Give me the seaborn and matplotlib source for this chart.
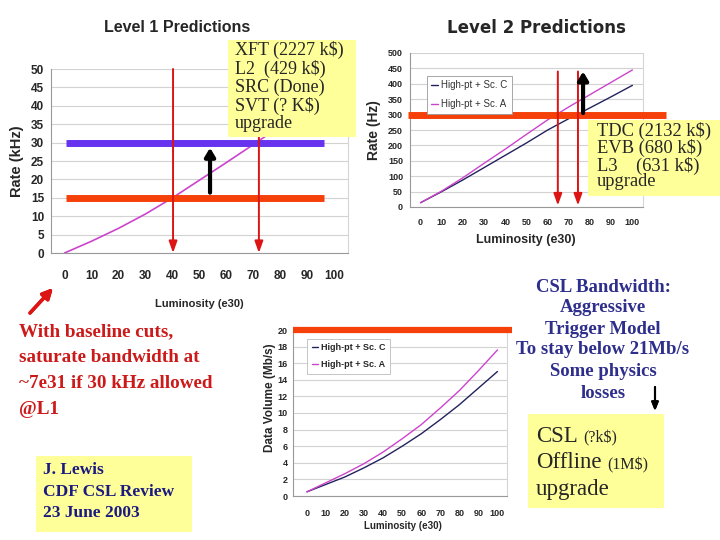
import matplotlib
matplotlib.use('Agg')
import matplotlib.pyplot as plt
from matplotlib import font_manager
from matplotlib.patches import Rectangle
import seaborn as sns
import pandas as pd

# ---- values ----
lum = [0, 10, 20, 30, 40, 50, 60, 70, 80, 90, 100]
l1_rate = [0, 3.2, 6.7, 10.6, 15.0, 19.8, 24.6, 29.5, 34.5, 39.8, 45.3]    # kHz
l2_sc_c = [14, 50, 88, 128, 168, 208, 250, 287, 322, 358, 395]              # Hz
l2_sc_a = [14, 52, 95, 142, 188, 236, 283, 325, 365, 405, 445]
dv_sc_c = [0.5, 1.4, 2.3, 3.4, 4.6, 6.0, 7.5, 9.2, 11.0, 13.0, 15.0]        # Mb/s
dv_sc_a = [0.5, 1.6, 2.7, 3.9, 5.3, 6.9, 8.6, 10.6, 12.7, 15.1, 17.6]
series_names = ['High-pt + Sc. C', 'High-pt + Sc. A']

l1_limits = [15, 29.8]          # today's L1 limit and the 30 kHz upgrade
l1_span = [0.5, 96]
l1_cross = [40.2, 72]           # luminosity where the curve hits each limit
l1_gain = [53.9, 16.4, 28.6]    # black arrow: lum, from, to
l2_limit = 300
l2_span = [-5.9, 116]
l2_cross = [64.8, 74.3]
l2_gain = [76.7, 305, 440]
dv_limit = 20
dv_span = [-7.3, 107.5]

box1_lines = ['XFT (2227 k$)', 'L2  (429 k$)', 'SRC (Done)', 'SVT (? K$)', 'upgrade']
box2_lines = ['TDC (2132 k$)', 'EVB (680 k$)', 'L3    (631 k$)', 'upgrade']
red_lines = ['With baseline cuts,', 'saturate bandwidth at', '~7e31 if 30 kHz allowed', '@L1']
blue_lines = ['CSL Bandwidth:', 'Aggressive', 'Trigger Model', 'To stay below 21Mb/s',
              'Some physics', 'losses']
credit_lines = ['J. Lewis', 'CDF CSL Review', '23 June 2003']
csl_words = ['CSL', 'Offline', 'upgrade']
csl_costs = ['(?k$)', '(1M$)', '']

MAGENTA = '#CC44CC'
NAVY = '#22225E'
ORANGE = '#F5400A'
PURPLE = '#6633EE'
RED = '#DD1414'
YELLOW = '#FFFF99'

sns.set_style('white')
avail = {f.name for f in font_manager.fontManager.ttflist}
sans = 'Liberation Sans Narrow' if 'Liberation Sans Narrow' in avail else 'Liberation Sans'
serif = 'Liberation Serif'
plt.rcParams['font.family'] = [sans, 'DejaVu Sans']

df1 = pd.DataFrame({'lum': lum, 'rate': l1_rate})
df2 = pd.DataFrame({'lum': lum * 2, 'rate': l2_sc_c + l2_sc_a,
                    'series': [series_names[0]] * len(lum) + [series_names[1]] * len(lum)})
df3 = pd.DataFrame({'lum': lum * 2, 'vol': dv_sc_c + dv_sc_a,
                    'series': [series_names[0]] * len(lum) + [series_names[1]] * len(lum)})

fig = plt.figure(figsize=(7.2, 5.4), dpi=100)


def fpos(x, y):                      # slide pixels -> figure fraction
    return (x / 720, 1 - y / 540)


def frect(x0, y0, x1, y1):
    return [x0 / 720, 1 - y1 / 540, (x1 - x0) / 720, (y1 - y0) / 540]


def style_axes(ax, xlim, ylim, yticks, size, xpad, ypad=2):
    ax.set_xlim(*xlim)
    ax.set_ylim(*ylim)
    ax.set_xticks(lum)
    ax.set_xticks([v - 5 for v in lum] + [105], minor=True)
    ax.set_yticks(yticks)
    ax.tick_params(axis='x', which='major', length=0, pad=xpad, labelsize=size)
    ax.tick_params(axis='x', which='minor', length=3, width=0.8, color='#999999', direction='out')
    ax.tick_params(axis='y', length=3, width=0.8, color='#999999', pad=ypad, labelsize=size)
    for lab in ax.get_xticklabels() + ax.get_yticklabels():
        lab.set_fontweight('bold')
    ax.yaxis.grid(True, color='#D2D2D2', lw=0.8)
    ax.set_axisbelow(True)
    ax.spines['top'].set_visible(False)
    for s in ['left', 'bottom']:
        ax.spines[s].set_color('#999999')
        ax.spines[s].set_linewidth(0.8)
    ax.spines['right'].set_color('#D5D5D5')
    ax.spines['right'].set_linewidth(0.8)
    ax.set_xlabel('')
    ax.set_ylabel('')


def down_arrow(ax, x, y0, y1, color, lw, head):
    ax.annotate('', xy=(x, y1), xytext=(x, y0),
                arrowprops=dict(arrowstyle=head, color=color, lw=lw,
                                shrinkA=0, shrinkB=0), zorder=6)


# ---- Level 1 ----
ax1 = fig.add_axes(frect(51, 69, 348, 253))
sns.lineplot(data=df1, x='lum', y='rate', color=MAGENTA, lw=1.2, ax=ax1, legend=False)
style_axes(ax1, (-5, 105), (0, 50), list(range(0, 55, 5)), 8.5, 12)
ax1.plot(l1_span, [l1_limits[1]] * 2, color=PURPLE, lw=5, solid_capstyle='butt', zorder=4)
ax1.plot(l1_span, [l1_limits[0]] * 2, color=ORANGE, lw=5, solid_capstyle='butt', zorder=4)
for c in l1_cross:
    down_arrow(ax1, c, 50, 0, RED, 1.4, '-|>,head_length=0.7,head_width=0.25')
down_arrow(ax1, l1_gain[0], l1_gain[1], l1_gain[2], 'black', 3, '-|>,head_length=0.5,head_width=0.3')

fig.text(*fpos(177, 27), 'Level 1 Predictions', ha='center', va='center',
         fontsize=11.5, fontweight='bold')
fig.text(*fpos(17, 161), 'Rate (kHz)', rotation=90, ha='center', va='center',
         fontsize=10.5, fontweight='bold')
fig.text(*fpos(199, 304), 'Luminosity (e30)', ha='center', va='center',
         fontsize=8, fontweight='bold')

# ---- Level 2 ----
ax2 = fig.add_axes(frect(410, 53, 643, 207))
sns.lineplot(data=df2, x='lum', y='rate', hue='series', hue_order=series_names,
             palette=[NAVY, MAGENTA], lw=1, ax=ax2)
style_axes(ax2, (-5, 105), (0, 500), list(range(0, 550, 50)), 6.5, 8)
leg = ax2.get_legend()
h2, t2 = leg.legend_handles, [t.get_text() for t in leg.texts]
ax2.legend(h2, t2, loc='upper left', bbox_to_anchor=(0.05, 0.885), fontsize=7,
           handlelength=0.7, handletextpad=0.3, labelspacing=0.9, borderpad=0.5,
           frameon=True, fancybox=False, edgecolor='#999999', framealpha=1,
           labelcolor='#333333')
ax2.get_legend().get_frame().set_linewidth(0.6)
ax2.plot(l2_span, [l2_limit] * 2, color=ORANGE, lw=5, solid_capstyle='butt',
         clip_on=False, zorder=4)
for c in l2_cross:
    down_arrow(ax2, c, 440, 5, RED, 1.4, '-|>,head_length=0.7,head_width=0.25')
down_arrow(ax2, l2_gain[0], l2_gain[1], l2_gain[2], 'black', 3, '-|>,head_length=0.5,head_width=0.3')

fig.text(*fpos(536, 28), 'Level 2 Predictions', ha='center', va='center',
         fontsize=12, fontweight='bold', family='DejaVu Sans')
fig.text(*fpos(374, 130), 'Rate (Hz)', rotation=90, ha='center', va='center',
         fontsize=10, fontweight='bold')
fig.text(*fpos(526, 240), 'Luminosity (e30)', ha='center', va='center',
         fontsize=9, fontweight='bold')

# ---- data volume ----
ax3 = fig.add_axes(frect(293, 330, 507, 496))
sns.lineplot(data=df3, x='lum', y='vol', hue='series', hue_order=series_names,
             palette=[NAVY, MAGENTA], lw=1, ax=ax3)
style_axes(ax3, (-7.3, 104), (0, 20), list(range(0, 22, 2)), 6.5, 9, ypad=1)
leg = ax3.get_legend()
h3, t3 = leg.legend_handles, [t.get_text() for t in leg.texts]
l3 = ax3.legend(h3, t3, loc='upper left', bbox_to_anchor=(0.045, 0.975), fontsize=6.5,
                handlelength=0.7, handletextpad=0.3, labelspacing=0.9, borderpad=0.5,
                frameon=True, fancybox=False, edgecolor='#BBBBBB', framealpha=1)
l3.get_frame().set_linewidth(0.6)
for t in l3.get_texts():
    t.set_fontweight('bold')
ax3.plot(dv_span, [dv_limit] * 2, color=ORANGE, lw=4.5, solid_capstyle='butt',
         clip_on=False, zorder=4)
fig.text(*fpos(270, 398), 'Data Volume (Mb/s)', rotation=90, ha='center', va='center',
         fontsize=8.5, fontweight='bold')
fig.text(*fpos(403, 526), 'Luminosity (e30)', ha='center', va='center',
         fontsize=7, fontweight='bold')

# ---- slide annotations ----
for x0, y0, x1, y1 in [(228, 40, 356, 137), (588, 120, 720, 196),
                       (528, 414, 664, 508), (36, 456, 192, 532)]:
    fig.add_artist(Rectangle(fpos(x0, y1), (x1 - x0) / 720, (y1 - y0) / 540,
                             transform=fig.transFigure, facecolor=YELLOW,
                             edgecolor='none', zorder=8))

for line, y in zip(box1_lines, [50, 69, 87, 106, 124]):
    fig.text(*fpos(235, y), line, ha='left', va='center', fontsize=13,
             family=serif, zorder=9)
for line, y in zip(box2_lines, [131, 148, 166, 182]):
    fig.text(*fpos(597, y), line, ha='left', va='center', fontsize=13.3,
             family=serif, zorder=9)
for line, y in zip(red_lines, [332, 357, 384, 410]):
    fig.text(*fpos(19, y), line, ha='left', va='center', fontsize=13.8,
             fontweight='bold', family=serif, color='#CC1A1A')
for line, y in zip(blue_lines, [287, 307, 329, 350, 372, 393]):
    fig.text(*fpos(603, y), line, ha='center', va='center', fontsize=13.5,
             fontweight='bold', family=serif, color='#2E2E8C')
for line, y in zip(credit_lines, [470, 492, 513]):
    fig.text(*fpos(43, y), line, ha='left', va='center', fontsize=12.5,
             fontweight='bold', family=serif, color='#1A1A80', zorder=9)

renderer = fig.canvas.get_renderer()
for word, cost, y in zip(csl_words, csl_costs, [436, 463, 490]):
    t = fig.text(*fpos(536, y), word, ha='left', va='center', fontsize=16.5,
                 family=serif, zorder=9)
    if cost:
        right = t.get_window_extent(renderer).x1
        fig.text(right / 720 + 6 / 720, fpos(0, y + 2)[1], cost, ha='left', va='center',
                 fontsize=11.5, family=serif, zorder=9)

# pointer arrows drawn on the slide itself
fig.add_artist(plt.annotate('', xy=fpos(53, 288), xytext=fpos(30, 313),
                            xycoords='figure fraction', textcoords='figure fraction',
                            arrowprops=dict(arrowstyle='-|>,head_length=0.6,head_width=0.3',
                                            color=RED, lw=2.5, shrinkA=0, shrinkB=0)))
fig.add_artist(plt.annotate('', xy=fpos(655, 411), xytext=fpos(655, 387),
                            xycoords='figure fraction', textcoords='figure fraction',
                            arrowprops=dict(arrowstyle='-|>,head_length=0.5,head_width=0.2',
                                            color='black', lw=1.5, shrinkA=0, shrinkB=0)))

fig.savefig('out.png', dpi=100)
